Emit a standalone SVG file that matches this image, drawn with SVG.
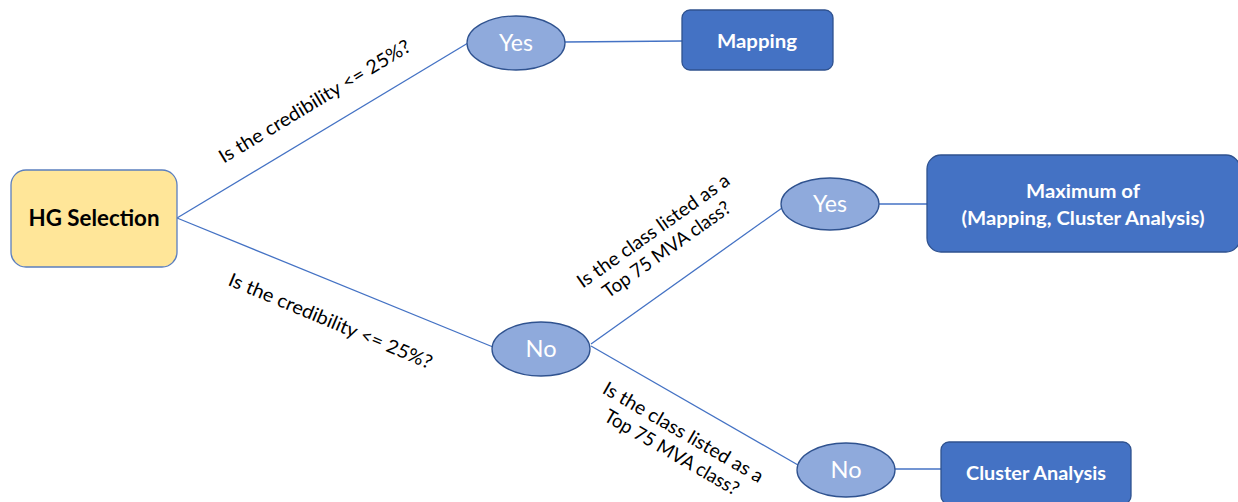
<svg xmlns="http://www.w3.org/2000/svg" width="1238" height="502" viewBox="0 0 1238 502">
<style>
.conn{stroke:#4472C4;stroke-width:1.3;fill:none}
.box{fill:#4472C4;stroke:#2F528F;stroke-width:1.3}
.oval{fill:#8FAADC;stroke:#2F528F;stroke-width:1.3}
.bt{font-family:Lato,"Liberation Sans",sans-serif;font-weight:bold;fill:#fff;font-size:18px;text-anchor:middle}
.ot{font-family:Lato,"Liberation Sans",sans-serif;fill:#fff;font-size:23px;text-anchor:middle}
.lbl{font-family:Lato,"Liberation Sans",sans-serif;fill:#000;font-size:19px;text-anchor:middle}
</style>
<rect width="1238" height="502" fill="#fff"/>
<g id="connectors">
<line class="conn" x1="177" y1="218" x2="468" y2="43"/>
<line class="conn" x1="177" y1="218" x2="493" y2="347"/>
<line class="conn" x1="565" y1="42" x2="682" y2="41"/>
<line class="conn" x1="591" y1="344" x2="782" y2="208"/>
<line class="conn" x1="591" y1="346" x2="798" y2="465"/>
<line class="conn" x1="879" y1="204" x2="927" y2="204"/>
<line class="conn" x1="895" y1="469" x2="941" y2="469"/>
</g>
<g id="labels">
<text class="lbl" transform="translate(318,107) rotate(-31.1)" textLength="220" lengthAdjust="spacingAndGlyphs">Is the credibility &lt;= 25%?</text>
<text class="lbl" transform="translate(328,327) rotate(22.7)" textLength="219" lengthAdjust="spacingAndGlyphs">Is the credibility &lt;= 25%?</text>
<g transform="translate(657,236) rotate(-35.4)">
<text class="lbl" x="0" y="0" textLength="182" lengthAdjust="spacingAndGlyphs">Is the class listed as a</text>
<text class="lbl" x="0" y="23" textLength="152" lengthAdjust="spacingAndGlyphs">Top 75 MVA class?</text>
</g>
<g transform="translate(680,438) rotate(30)">
<text class="lbl" x="0" y="0" textLength="182" lengthAdjust="spacingAndGlyphs">Is the class listed as a</text>
<text class="lbl" x="0" y="23" textLength="152" lengthAdjust="spacingAndGlyphs">Top 75 MVA class?</text>
</g>
</g>
<g id="hg-selection">
<rect x="11" y="170" width="166" height="97" rx="15" fill="#FFE699" stroke="#5B7FBF" stroke-width="1.3"/>
<text x="94" y="226" font-family="Lato,'Liberation Sans',sans-serif" font-weight="bold" font-size="22" text-anchor="middle" fill="#000" textLength="131" lengthAdjust="spacingAndGlyphs">HG Selection</text>
</g>
<g id="yes-top">
<ellipse class="oval" cx="516" cy="43" rx="49" ry="27"/>
<text class="ot" x="516" y="51" textLength="34" lengthAdjust="spacingAndGlyphs">Yes</text>
</g>
<g id="mapping">
<rect class="box" x="682" y="10" width="151" height="60" rx="8"/>
<text class="bt" x="757" y="48" textLength="80" lengthAdjust="spacingAndGlyphs">Mapping</text>
</g>
<g id="no-mid">
<ellipse class="oval" cx="541" cy="349" rx="49" ry="27"/>
<text class="ot" x="541" y="357" textLength="31" lengthAdjust="spacingAndGlyphs">No</text>
</g>
<g id="yes-mid">
<ellipse class="oval" cx="830" cy="204" rx="49" ry="26"/>
<text class="ot" x="830" y="212" textLength="34" lengthAdjust="spacingAndGlyphs">Yes</text>
</g>
<g id="maximum">
<rect class="box" x="927" y="155" width="313" height="97" rx="14"/>
<text class="bt" x="1083" y="198" textLength="114" lengthAdjust="spacingAndGlyphs">Maximum of</text>
<text class="bt" x="1083" y="225" textLength="243" lengthAdjust="spacingAndGlyphs">(Mapping, Cluster Analysis)</text>
</g>
<g id="no-bottom">
<ellipse class="oval" cx="846" cy="470" rx="49" ry="27"/>
<text class="ot" x="846" y="478" textLength="31" lengthAdjust="spacingAndGlyphs">No</text>
</g>
<g id="cluster-analysis">
<rect class="box" x="941" y="442" width="190" height="62" rx="8"/>
<text class="bt" x="1036" y="480" textLength="140" lengthAdjust="spacingAndGlyphs">Cluster Analysis</text>
</g>
</svg>
